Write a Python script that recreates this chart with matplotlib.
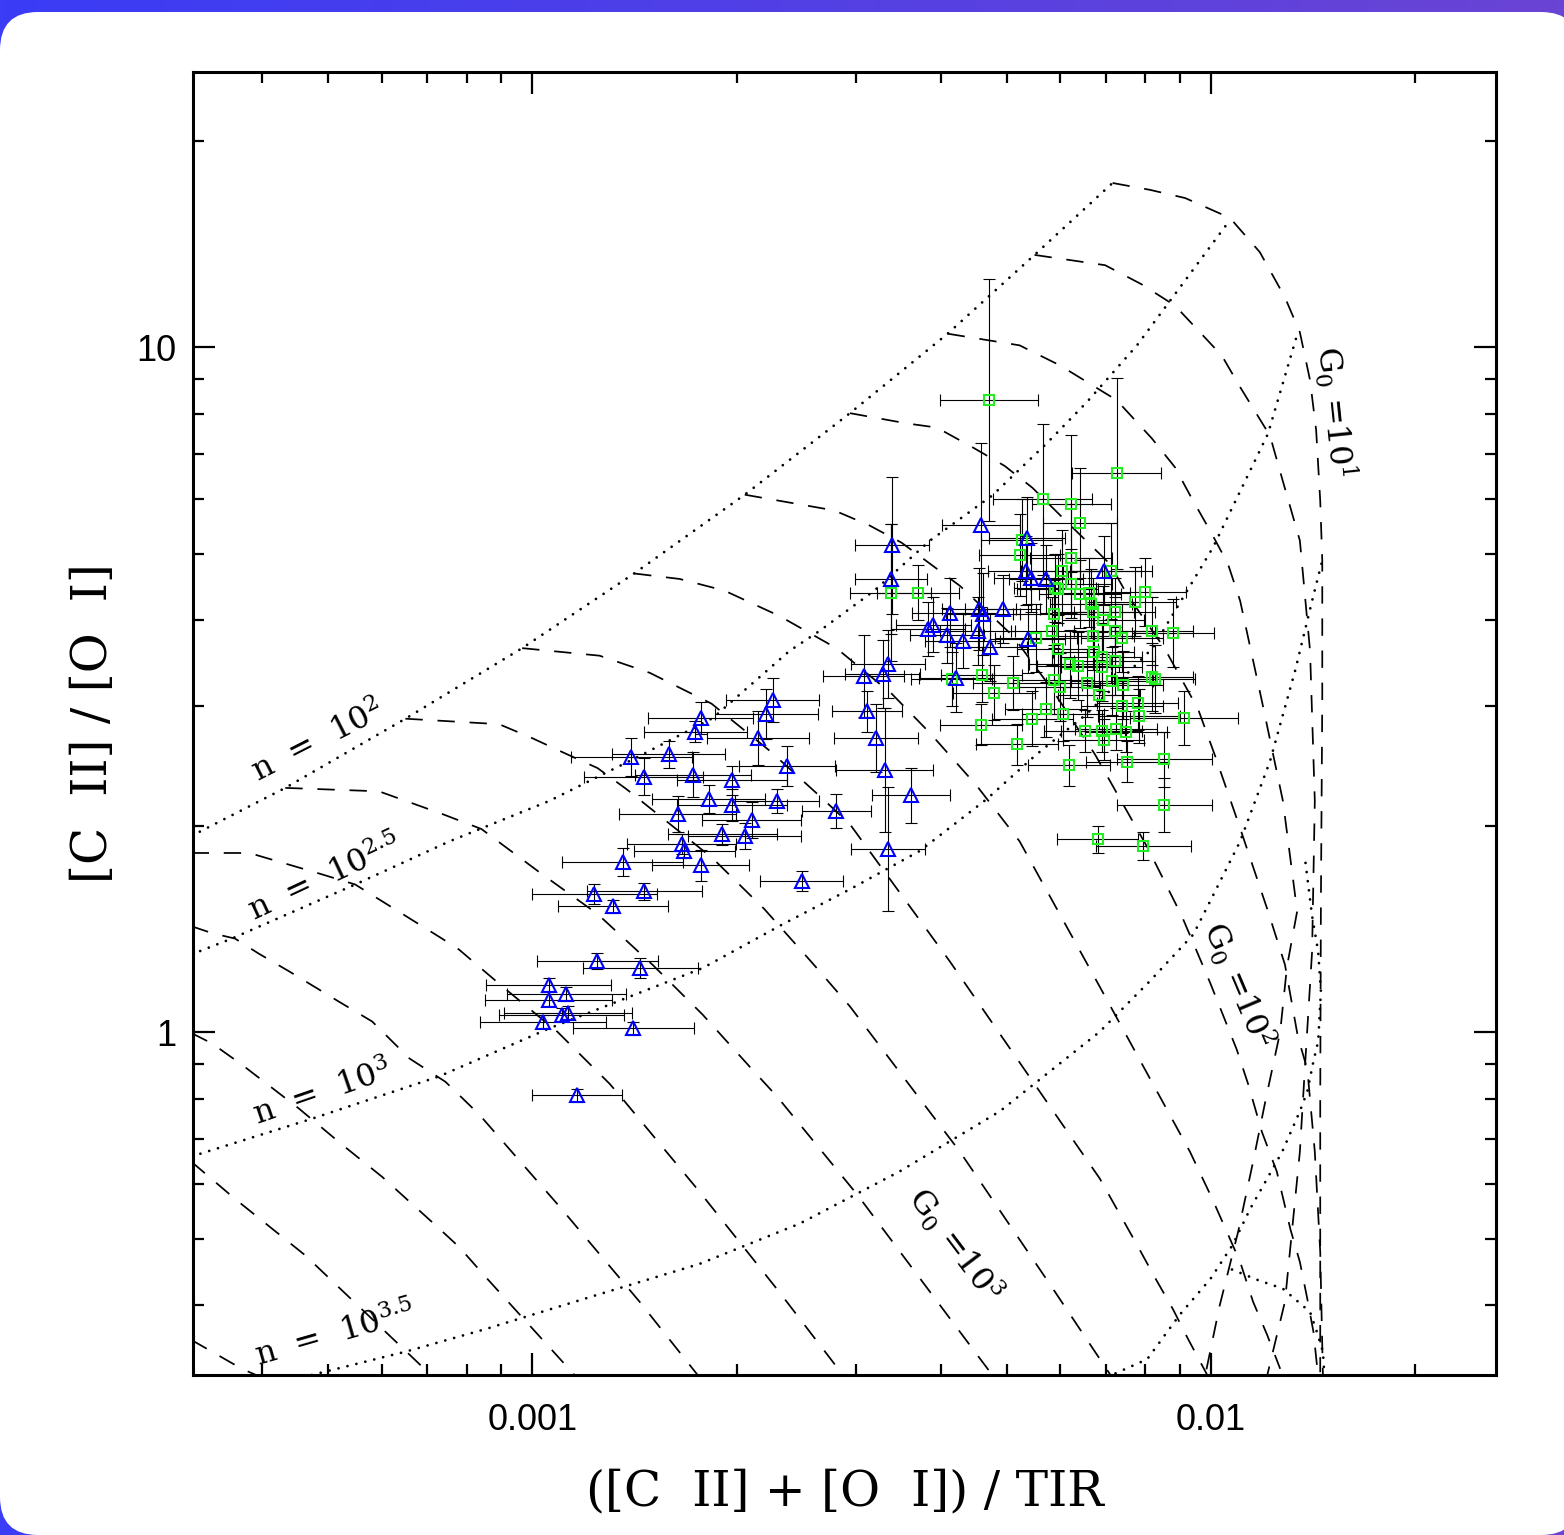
import numpy as np
import matplotlib.pyplot as plt
from matplotlib.patches import FancyBboxPatch
from matplotlib.colors import LinearSegmentedColormap
from matplotlib.ticker import FixedLocator, NullFormatter

# observed points: log10(([CII]+[OI])/TIR), log10([CII]/[OI]), x error (dex), y error (dex)
blue_lx = [-2.646, -2.655, -2.752, -2.760, -2.668, -2.854, -2.799, -2.625, -2.836, -2.763,
           -2.706, -2.740, -2.706, -2.639, -2.552, -2.786, -2.677, -2.720, -2.687, -2.780,
           -2.776, -2.867, -2.752, -2.603, -2.909, -2.835, -2.881, -2.904, -2.841, -2.976,
           -2.950, -2.976, -2.947, -2.957, -2.984, -2.851, -2.934, -2.470, -2.472, -2.339,
           -2.271, -2.273, -2.265, -2.243, -2.158, -2.385, -2.342, -2.336, -2.307, -2.417,
           -2.409, -2.389, -2.344, -2.366, -2.326, -2.270, -2.512, -2.484, -2.476, -2.375,
           -2.507, -2.493, -2.481, -2.442, -2.476]
blue_ly = [0.485, 0.465, 0.459, 0.439, 0.430, 0.402, 0.406, 0.389, 0.373, 0.376,
           0.368, 0.341, 0.332, 0.338, 0.323, 0.319, 0.310, 0.289, 0.287, 0.275,
           0.265, 0.249, 0.244, 0.221, 0.202, 0.206, 0.184, 0.104, 0.094, 0.070,
           0.056, 0.047, 0.029, 0.026, 0.016, 0.006, -0.092, 0.711, 0.662, 0.741,
           0.722, 0.674, 0.664, 0.662, 0.674, 0.613, 0.618, 0.611, 0.618, 0.589,
           0.595, 0.580, 0.586, 0.572, 0.563, 0.575, 0.520, 0.523, 0.538, 0.518,
           0.469, 0.430, 0.383, 0.346, 0.268]
blue_xe = [0.068, 0.076, 0.077, 0.076, 0.075, 0.089, 0.083, 0.071, 0.088, 0.085,
           0.081, 0.083, 0.081, 0.062, 0.051, 0.086, 0.073, 0.080, 0.083, 0.080,
           0.074, 0.089, 0.071, 0.061, 0.092, 0.085, 0.081, 0.089, 0.085, 0.092,
           0.088, 0.093, 0.094, 0.092, 0.093, 0.089, 0.066, 0.055, 0.053, 0.057,
           0.056, 0.055, 0.055, 0.055, 0.055, 0.055, 0.055, 0.055, 0.055, 0.055,
           0.055, 0.055, 0.055, 0.055, 0.055, 0.055, 0.059, 0.055, 0.055, 0.055,
           0.052, 0.062, 0.071, 0.057, 0.055]
blue_ye = [0.032, 0.037, 0.024, 0.015, 0.039, 0.028, 0.020, 0.029, 0.027, 0.033,
           0.021, 0.020, 0.023, 0.018, 0.025, 0.026, 0.026, 0.015, 0.019, 0.015,
           0.010, 0.020, 0.023, 0.015, 0.014, 0.012, 0.010, 0.012, 0.015, 0.009,
           0.010, 0.009, 0.009, 0.009, 0.009, 0.010, 0.010, 0.100, 0.080, 0.120,
           0.060, 0.050, 0.050, 0.050, 0.050, 0.050, 0.060, 0.060, 0.050, 0.040,
           0.040, 0.040, 0.050, 0.040, 0.050, 0.050, 0.060, 0.050, 0.050, 0.050,
           0.030, 0.050, 0.090, 0.040, 0.090]

green_lx = [-2.327, -2.139, -2.248, -2.206, -2.193, -2.279, -2.282, -2.206, -2.220, -2.147,
            -2.206, -2.230, -2.226, -2.193, -2.180, -2.097, -2.112, -2.177, -2.174, -2.142,
            -2.232, -2.159, -2.234, -2.142, -2.087, -2.056, -2.174, -2.131, -2.258, -2.226,
            -2.173, -2.161, -2.142, -2.208, -2.196, -2.161, -2.472, -2.432, -2.382, -2.338,
            -2.291, -2.320, -2.232, -2.223, -2.183, -2.146, -2.130, -2.087, -2.083, -2.165,
            -2.108, -2.131, -2.106, -2.243, -2.218, -2.263, -2.339, -2.286, -2.040, -2.186,
            -2.161, -2.140, -2.125, -2.158, -2.209, -2.124, -2.069, -2.069, -2.167, -2.100]
green_ly = [0.923, 0.816, 0.778, 0.772, 0.744, 0.719, 0.697, 0.692, 0.673, 0.674,
            0.655, 0.649, 0.648, 0.640, 0.642, 0.643, 0.629, 0.626, 0.614, 0.614,
            0.611, 0.602, 0.586, 0.586, 0.586, 0.583, 0.579, 0.576, 0.576, 0.560,
            0.556, 0.548, 0.542, 0.538, 0.535, 0.534, 0.642, 0.642, 0.516, 0.522,
            0.510, 0.496, 0.515, 0.504, 0.510, 0.513, 0.507, 0.519, 0.516, 0.493,
            0.481, 0.477, 0.462, 0.472, 0.465, 0.458, 0.449, 0.421, 0.459, 0.440,
            0.440, 0.443, 0.439, 0.427, 0.390, 0.395, 0.399, 0.332, 0.282, 0.272]
green_xe = [0.072, 0.066, 0.073, 0.058, 0.055] + [0.060] * 52 + [0.060, 0.080, 0.060,
            0.060, 0.060, 0.060, 0.060, 0.060, 0.060, 0.070, 0.070, 0.060, 0.070]
green_ye = [0.177, 0.140, 0.110, 0.100, 0.080, 0.060, 0.060, 0.080, 0.060, 0.070,
            0.050, 0.050, 0.050, 0.050, 0.050, 0.050, 0.050, 0.050, 0.050, 0.050,
            0.050, 0.050, 0.050, 0.050, 0.050, 0.050, 0.050, 0.050, 0.050, 0.050,
            0.050, 0.050, 0.050, 0.050, 0.050, 0.050, 0.100, 0.040, 0.040, 0.040,
            0.040, 0.040, 0.050, 0.050, 0.050, 0.050, 0.050, 0.050, 0.050, 0.050,
            0.040, 0.040, 0.040, 0.040, 0.040, 0.040, 0.030, 0.030, 0.040, 0.030,
            0.030, 0.030, 0.030, 0.030, 0.030, 0.030, 0.040, 0.040, 0.020, 0.020]

# PDR model grid, (log10 x, log10 y) nodes
# constant density (dotted)
n_20 = [(-3.502, 0.287), (-3.364, 0.357), (-3.187, 0.458), (-3.015, 0.561), (-2.850, 0.670),
        (-2.687, 0.785), (-2.532, 0.904), (-2.388, 1.020), (-2.260, 1.135), (-2.145, 1.240)]
n_25 = [(-3.502, 0.114), (-3.443, 0.137), (-3.261, 0.216), (-3.122, 0.279), (-2.975, 0.338),
        (-2.847, 0.401), (-2.734, 0.459), (-2.621, 0.557), (-2.577, 0.586), (-2.496, 0.645),
        (-2.414, 0.718), (-2.322, 0.784), (-2.242, 0.860), (-2.183, 0.920), (-2.109, 1.003),
        (-1.972, 1.186)]
n_30 = [(-3.502, -0.181), (-3.325, -0.126), (-3.137, -0.064), (-2.975, 0.006), (-2.847, 0.056),
        (-2.749, 0.094), (-2.631, 0.158), (-2.532, 0.209), (-2.429, 0.265), (-2.330, 0.341),
        (-2.257, 0.406), (-2.183, 0.465), (-2.086, 0.561), (-2.035, 0.645), (-1.997, 0.708),
        (-1.916, 0.874), (-1.872, 1.022)]
n_35 = [(-3.325, -0.500), (-3.187, -0.466), (-3.069, -0.433), (-2.901, -0.382), (-2.754, -0.338),
        (-2.606, -0.279), (-2.459, -0.203), (-2.311, -0.115), (-2.164, 0.001), (-2.090, 0.075),
        (-2.026, 0.143), (-2.001, 0.192), (-1.957, 0.279), (-1.913, 0.396), (-1.876, 0.528),
        (-1.851, 0.630), (-1.836, 0.689)]
n_40 = [(-2.153, -0.503), (-2.094, -0.477), (-2.046, -0.412), (-2.001, -0.360), (-1.968, -0.310),
        (-1.942, -0.257), (-1.917, -0.213), (-1.895, -0.174), (-1.869, -0.115), (-1.858, -0.086),
        (-1.849, -0.042), (-1.842, -0.013), (-1.838, 0.060), (-1.842, 0.118), (-1.851, 0.170),
        (-1.861, 0.250)]
n_45 = [(-1.969, -0.346), (-1.932, -0.361), (-1.894, -0.374), (-1.854, -0.408), (-1.844, -0.437),
        (-1.835, -0.466), (-1.833, -0.499)]

# constant G0 (dashed)
g_a1 = [(-2.145, 1.240), (-2.090, 1.230), (-2.038, 1.218), (-1.972, 1.189), (-1.928, 1.139),
        (-1.891, 1.073), (-1.869, 1.022), (-1.854, 0.952), (-1.845, 0.879), (-1.839, 0.776),
        (-1.836, 0.689), (-1.836, 0.484), (-1.838, 0.192), (-1.839, -0.101), (-1.839, -0.496)]
g_a2 = [(-2.260, 1.135), (-2.156, 1.120), (-2.102, 1.092), (-2.053, 1.061), (-2.019, 1.025),
        (-1.984, 0.988), (-1.957, 0.942), (-1.913, 0.871), (-1.891, 0.794), (-1.869, 0.718),
        (-1.854, 0.557), (-1.847, 0.338), (-1.851, 0.118), (-1.861, -0.042), (-1.869, -0.174),
        (-1.891, -0.393), (-1.917, -0.500)]
g_a3 = [(-2.388, 1.020), (-2.282, 1.003), (-2.223, 0.974), (-2.139, 0.923), (-2.087, 0.867),
        (-2.053, 0.825), (-2.028, 0.779), (-2.001, 0.732), (-1.975, 0.684), (-1.957, 0.630),
        (-1.925, 0.484), (-1.894, 0.338), (-1.873, 0.177), (-1.888, 0.096), (-1.898, 0.001),
        (-1.920, -0.101), (-1.938, -0.189), (-1.960, -0.291), (-1.987, -0.398), (-2.009, -0.503)]
g_a4 = [(-2.532, 0.904), (-2.448, 0.889), (-2.404, 0.883), (-2.351, 0.854), (-2.304, 0.827),
        (-2.263, 0.795), (-2.211, 0.744), (-2.149, 0.684), (-2.124, 0.640), (-2.068, 0.560),
        (-2.019, 0.472), (-1.994, 0.404), (-1.957, 0.298), (-1.916, 0.177), (-1.891, 0.099),
        (-1.872, -0.006), (-1.858, -0.054), (-1.847, -0.174), (-1.839, -0.320), (-1.835, -0.503)]
g_a5 = [(-2.687, 0.785), (-2.555, 0.762), (-2.503, 0.740), (-2.456, 0.715), (-2.370, 0.652),
        (-2.292, 0.579), (-2.233, 0.499), (-2.171, 0.406), (-2.093, 0.269), (-2.043, 0.170),
        (-2.001, 0.072), (-1.962, -0.025), (-1.945, -0.076), (-1.925, -0.145), (-1.903, -0.203),
        (-1.883, -0.287), (-1.869, -0.335), (-1.858, -0.389), (-1.849, -0.437), (-1.842, -0.503)]
g_a6 = [(-2.850, 0.670), (-2.783, 0.662), (-2.717, 0.645), (-2.636, 0.608), (-2.552, 0.561),
        (-2.470, 0.494), (-2.414, 0.437), (-2.345, 0.360), (-2.282, 0.279), (-2.164, 0.067),
        (-2.031, -0.174), (-1.998, -0.243), (-1.957, -0.335), (-1.938, -0.393), (-1.917, -0.442),
        (-1.898, -0.491)]
g_a7 = [(-3.015, 0.561), (-2.901, 0.550), (-2.827, 0.525), (-2.736, 0.480), (-2.650, 0.411),
        (-2.572, 0.341), (-2.532, 0.304), (-2.385, 0.104), (-2.164, -0.213), (-2.109, -0.310),
        (-2.083, -0.357), (-2.056, -0.404), (-2.034, -0.447), (-2.006, -0.499)]
g_a8 = [(-3.187, 0.458), (-3.049, 0.450), (-3.001, 0.430), (-2.953, 0.408), (-2.904, 0.386),
        (-2.861, 0.355), (-2.817, 0.320), (-2.734, 0.254), (-2.658, 0.180), (-2.587, 0.101),
        (-2.532, 0.038), (-2.370, -0.174), (-2.237, -0.368), (-2.146, -0.503)]
g_a9 = [(-3.364, 0.357), (-3.226, 0.352), (-3.133, 0.319), (-3.075, 0.297), (-2.987, 0.232),
        (-2.904, 0.173), (-2.823, 0.099), (-2.749, 0.026), (-2.676, -0.054), (-2.639, -0.094),
        (-2.521, -0.237), (-2.348, -0.466), (-2.320, -0.503)]
g_a10 = [(-3.502, 0.262), (-3.417, 0.262), (-3.314, 0.232), (-3.261, 0.216), (-3.133, 0.137),
         (-3.108, 0.121), (-3.044, 0.067), (-2.963, 0.001), (-2.886, -0.075), (-2.867, -0.097),
         (-2.754, -0.232), (-2.636, -0.379), (-2.540, -0.503)]
g_a11 = [(-3.502, 0.155), (-3.472, 0.145), (-3.438, 0.137), (-3.403, 0.115), (-3.358, 0.089),
         (-3.285, 0.045), (-3.236, 0.016), (-3.181, -0.038), (-3.128, -0.072), (-3.078, -0.120),
         (-2.960, -0.254), (-2.842, -0.393), (-2.754, -0.503)]
g_a12 = [(-3.502, -0.001), (-3.472, -0.016), (-3.428, -0.047), (-3.386, -0.079), (-3.344, -0.111),
         (-3.280, -0.164), (-3.221, -0.211), (-3.181, -0.247), (-3.143, -0.281), (-3.108, -0.313),
         (-3.066, -0.360), (-2.935, -0.503)]
g_a13 = [(-3.502, -0.189), (-3.438, -0.243), (-3.335, -0.325), (-3.159, -0.491), (-3.148, -0.503)]
g_a14 = [(-3.502, -0.449), (-3.428, -0.491), (-3.400, -0.503)]

density_curves = [n_20, n_25, n_30, n_35, n_40, n_45]
field_curves = [g_a1, g_a2, g_a3, g_a4, g_a5, g_a6, g_a7, g_a8, g_a9, g_a10,
                g_a11, g_a12, g_a13, g_a14]

W, H = 1564, 1535
fig = plt.figure(figsize=(W / 100, H / 100), dpi=100)

# blue rounded frame behind the white page
bg = fig.add_axes([0, 0, 1, 1])
bg.set_xlim(0, W)
bg.set_ylim(0, H)
bg.axis('off')
edge = LinearSegmentedColormap.from_list('edge', ['#3a3cf6', '#6a44d4'])
bg.imshow(np.linspace(0, 1, 256).reshape(1, -1), cmap=edge, extent=[0, W, 0, H], aspect='auto')
bg.add_patch(FancyBboxPatch((0, 0), W + 15, H - 12, boxstyle='round,pad=0,rounding_size=38',
                            fc='white', ec='none'))

ax = fig.add_axes([193 / W, 160 / H, 1303 / W, 1303 / H])
ax.set_xscale('log')
ax.set_yscale('log')
ax.set_xlim(10 ** -3.5, 10 ** -1.58)
ax.set_ylim(10 ** -0.5, 10 ** 1.402)

for c in density_curves:
    lx, ly = zip(*c)
    ax.plot(10 ** np.array(lx), 10 ** np.array(ly), color='black', lw=2.0,
            linestyle=(0, (0.01, 3.3)), dash_capstyle='round', zorder=1)
for c in field_curves:
    lx, ly = zip(*c)
    ax.plot(10 ** np.array(lx), 10 ** np.array(ly), color='black', lw=1.25,
            linestyle=(0, (10, 8.5)), zorder=1)


def draw_points(lx, ly, xe, ye, marker, color, size):
    lx, ly, xe, ye = map(np.array, (lx, ly, xe, ye))
    x, y = 10 ** lx, 10 ** ly
    xerr = [x - 10 ** (lx - xe), 10 ** (lx + xe) - x]
    yerr = [y - 10 ** (ly - ye), 10 ** (ly + ye) - y]
    ax.errorbar(x, y, xerr=xerr, yerr=yerr, fmt='none', ecolor='black', elinewidth=0.8,
                capsize=4, capthick=0.8, zorder=2)
    ax.plot(x, y, linestyle='none', marker=marker, markersize=size, mfc='none',
            mec=color, mew=1.5, zorder=3)


draw_points(green_lx, green_ly, green_xe, green_ye, 's', '#22ee22', 7.5)
draw_points(blue_lx, blue_ly, blue_xe, blue_ye, '^', '#0000ff', 9.5)

for s in ax.spines.values():
    s.set_linewidth(2.2)
ax.xaxis.set_major_locator(FixedLocator([0.001, 0.01]))
ax.set_xticklabels(['0.001', '0.01'])
ax.yaxis.set_major_locator(FixedLocator([1, 10]))
ax.set_yticklabels(['1', '10'])
ax.xaxis.set_minor_formatter(NullFormatter())
ax.yaxis.set_minor_formatter(NullFormatter())
ax.tick_params(which='both', direction='in', top=True, right=True, width=1.6)
ax.tick_params(which='major', length=16)
ax.tick_params(which='minor', length=8)
ax.tick_params(axis='x', which='major', pad=20)
ax.tick_params(axis='y', which='major', pad=12)
for lab in ax.get_xticklabels() + ax.get_yticklabels():
    lab.set_family(['Liberation Sans Narrow', 'Liberation Sans'])
    lab.set_fontsize(26)

serif = 'DejaVu Serif'
plt.rcParams['mathtext.fontset'] = 'dejavuserif'
ax.set_xlabel('([C  II] + [O  I]) / TIR', family=serif, fontsize=35, labelpad=22)
ax.set_ylabel('[C  II] / [O  I]', family=serif, fontsize=35, labelpad=14)

labels = [
    ('n  =  10$^{2}$', 0.0959, 0.4858, 27),
    ('n  =  10$^{2.5}$', 0.1013, 0.3814, 25),
    ('n  =  10$^{3}$', 0.0990, 0.2164, 19),
    ('n  =  10$^{3.5}$', 0.1090, 0.0307, 16),
    ('G$_0$ =10$^{1}$', 0.8764, 0.7391, -84),
    ('G$_0$ =10$^{2}$', 0.8020, 0.2993, -67),
    ('G$_0$ =10$^{3}$', 0.5848, 0.0998, -53),
]
for txt, fx, fy, rot in labels:
    ax.text(fx, fy, txt, transform=ax.transAxes, family=serif, fontsize=23,
            rotation=rot, rotation_mode='anchor', ha='center', va='center')

fig.savefig('out.png', dpi=100)
